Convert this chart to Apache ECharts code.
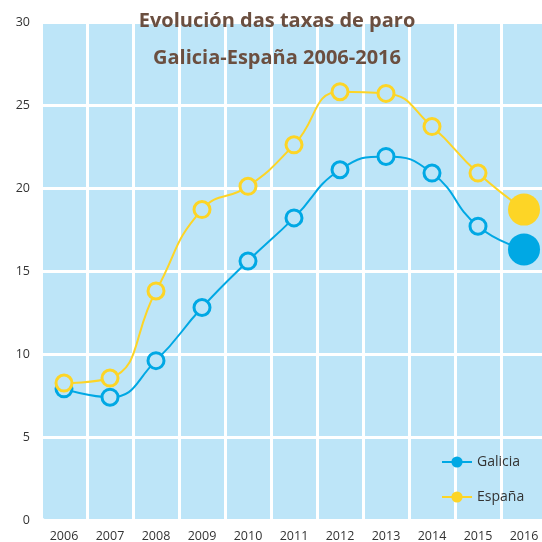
<!DOCTYPE html>
<html>
<head>
<meta charset="utf-8">
<script src="https://cdn.jsdelivr.net/npm/echarts@6/dist/echarts.min.js"></script>
<style>html,body{margin:0;padding:0;background:#fff}#c{width:542px;height:542px}</style>
</head>
<body>
<div id="c"></div>
<script>
var years = ['2006','2007','2008','2009','2010','2011','2012','2013','2014','2015','2016'];
var galicia = [7.9, 7.4, 9.6, 12.8, 15.6, 18.2, 21.1, 21.9, 20.9, 17.7, 16.3];
var espana  = [8.25, 8.55, 13.8, 18.7, 20.1, 22.6, 25.8, 25.7, 23.7, 20.9, 18.7];
var yTicks = [0, 5, 10, 15, 20, 25, 30];

var BG = '#bde5f8';
var BLUE = '#00a8e4';
var YELLOW = '#fdd526';

function mkData(arr, color) {
  return arr.map(function (v, i) {
    if (i === arr.length - 1) {
      return { value: v, symbolSize: 32, itemStyle: { color: color, borderWidth: 0 } };
    }
    return v;
  });
}

function mkSeries(name, arr, color) {
  return {
    name: name,
    type: 'line',
    smooth: true,
    data: mkData(arr, color),
    symbol: 'circle',
    symbolSize: 16,
    showAllSymbol: true,
    lineStyle: { color: color, width: 2 },
    itemStyle: { color: BG, borderColor: color, borderWidth: 3 },
    emphasis: { disabled: true },
    z: 5
  };
}

var chart = echarts.init(document.getElementById('c'), null, { renderer: 'canvas' });
chart.setOption({
  animation: false,
  backgroundColor: '#fff',
  graphic: [{
    type: 'rect',
    left: 41, top: 22,
    shape: { width: 520, height: 498, r: 7 },
    style: { fill: BG },
    z: -10
  }],
  title: {
    text: 'Evolución das taxas de paro\nGalicia-España 2006-2016',
    left: 272,
    top: -2,
    textAlign: 'center',
    textStyle: {
      fontFamily: 'Open Sans',
      fontWeight: 'bold',
      fontSize: 20,
      color: '#6b4f40',
      lineHeight: 37
    }
  },
  legend: {
    orient: 'vertical',
    left: 436,
    top: 450,
    itemWidth: 30,
    itemHeight: 14,
    itemGap: 21,
    textStyle: { fontFamily: 'Open Sans', fontSize: 14, color: '#333' },
    data: [
      { name: 'Galicia', itemStyle: { color: BLUE, borderWidth: 0 } },
      { name: 'España', itemStyle: { color: YELLOW, borderWidth: 0 } }
    ]
  },
  grid: { left: 41, width: 506, top: 22, bottom: 22, outerBoundsMode: 'none', containLabel: false },
  xAxis: {
    type: 'category',
    data: years,
    boundaryGap: true,
    axisLine: { show: false },
    axisTick: { show: false },
    axisLabel: { margin: 10, fontFamily: 'Open Sans', fontSize: 12.5, color: '#333' },
    splitLine: { show: true, lineStyle: { color: '#fff', width: 3 } }
  },
  yAxis: {
    type: 'value',
    min: yTicks[0],
    max: yTicks[yTicks.length - 1],
    interval: 5,
    axisLine: { show: false },
    axisTick: { show: false },
    axisLabel: { margin: 11, fontFamily: 'Open Sans', fontSize: 12.5, color: '#333' },
    splitLine: { show: true, lineStyle: { color: '#fff', width: 3 } }
  },
  series: [
    mkSeries('Galicia', galicia, BLUE),
    mkSeries('España', espana, YELLOW)
  ]
});
</script>
</body>
</html>
